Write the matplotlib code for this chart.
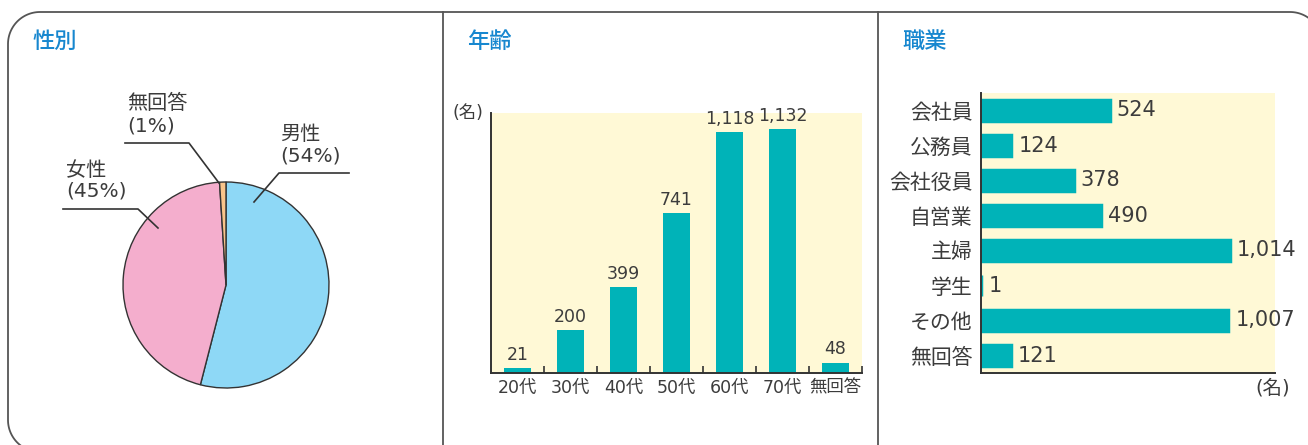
import numpy as np
import matplotlib
matplotlib.use("Agg")
import matplotlib.pyplot as plt

plt.rcParams["font.family"] = ["DejaVu Sans", "Noto Sans CJK JP"]

# ---- data -------------------------------------------------------------------
gender_labels = ["男性", "女性", "無回答"]
gender_pct = [54, 45, 1]

age_labels = ["20代", "30代", "40代", "50代", "60代", "70代", "無回答"]
age_counts = [21, 200, 399, 741, 1118, 1132, 48]

job_labels = ["会社員", "公務員", "会社役員", "自営業", "主婦", "学生", "その他", "無回答"]
job_counts = [524, 124, 378, 490, 1014, 1, 1007, 121]

# ---- style ------------------------------------------------------------------
W, H = 1308, 445
TEAL = "#00b3b8"
CREAM = "#fff9d6"
TXT = "#3c3c3c"
TITLE = "#1787cf"
PIE_COLORS = ["#8ed8f6", "#f4aecd", "#f9c48a"]

fig = plt.figure(figsize=(W / 100, H / 100), dpi=100)
fig.patch.set_facecolor("white")


def px_axes(left, top, right, bottom, **kw):
    """axes placed by pixel edges (top-left origin)"""
    return fig.add_axes([left / W, (H - bottom) / H, (right - left) / W, (bottom - top) / H], **kw)


# ---- 性別: pie --------------------------------------------------------------
cx, cy, r = 226, 285, 103
half = 120
axP = px_axes(cx - half, cy - half, cx + half, cy + half)
axP.pie(gender_pct, colors=PIE_COLORS, startangle=90, counterclock=False,
        wedgeprops=dict(edgecolor="#333333", linewidth=1.0))
lim = half / r
axP.set_xlim(-lim, lim); axP.set_ylim(-lim, lim)
axP.set_aspect("equal")
axP.axis("off")

# ---- 年齢: vertical bars ----------------------------------------------------
axA = px_axes(491, 113, 862, 373, facecolor=CREAM)
xa = range(len(age_labels))
axA.bar(xa, age_counts, width=0.5, color=TEAL, zorder=2)
for x, v in zip(xa, age_counts):
    axA.annotate(f"{v:,}", (x, v), xytext=(0, 3), textcoords="offset points",
                 ha="center", va="bottom", fontsize=12.5, color=TXT)
axA.set_xlim(-0.5, len(age_labels) - 0.5)
axA.set_ylim(0, 1206)
axA.set_xticks(list(xa))
axA.set_xticklabels(age_labels, fontsize=12.5, color=TXT)
axA.tick_params(axis="x", which="major", length=0, pad=4)
axA.set_xticks([i + 0.5 for i in xa], minor=True)
axA.tick_params(axis="x", which="minor", direction="in", length=5, width=1.2, color="#333333")
axA.set_yticks([])
for s in ["top", "right"]:
    axA.spines[s].set_visible(False)
for s in ["left", "bottom"]:
    axA.spines[s].set_color("#333333"); axA.spines[s].set_linewidth(1.4)

# ---- 職業: horizontal bars --------------------------------------------------
axJ = px_axes(981, 93, 1275, 373, facecolor=CREAM)
yj = range(len(job_labels))
axJ.barh(yj, job_counts, height=0.59, color=TEAL, edgecolor=TEAL, linewidth=2.5, zorder=2)
for y, v in zip(yj, job_counts):
    axJ.annotate(f"{v:,}", (v, y), xytext=(5, 0), textcoords="offset points",
                 ha="left", va="center", fontsize=15, color=TXT)
axJ.set_ylim(len(job_labels) - 0.5, -0.5)
axJ.set_xlim(0, 1197)
axJ.set_yticks(list(yj))
axJ.set_yticklabels(job_labels, fontsize=15, color=TXT)
axJ.tick_params(axis="y", length=0, pad=6)
axJ.set_xticks([])
for s in ["top", "right"]:
    axJ.spines[s].set_visible(False)
for s in ["left", "bottom"]:
    axJ.spines[s].set_color("#333333"); axJ.spines[s].set_linewidth(1.4)

# ---- overlay: frame, dividers, titles, pie callouts -------------------------
ov = fig.add_axes([0, 0, 1, 1], zorder=10)
ov.set_xlim(0, W); ov.set_ylim(H, 0)
ov.axis("off")

# rounded frame (right and bottom edges run off the picture)
x0, y0, x1, y1, rad = 8, 12, 1322, 452, 32
t = np.linspace(0, np.pi / 2, 30)
bl_x = x0 + rad - rad * np.sin(t)[::-1]
bl_y = y1 - rad + rad * np.cos(t)[::-1]
tl_x = x0 + rad - rad * np.cos(t)
tl_y = y0 + rad - rad * np.sin(t)
tr_x = x1 - rad + rad * np.sin(t)
tr_y = y0 + rad - rad * np.cos(t)
frame_x = np.concatenate([[x0 + rad + 40], bl_x[::-1], tl_x, tr_x, [x1]])
frame_y = np.concatenate([[y1], bl_y[::-1], tl_y, tr_y, [y1]])
ov.plot(frame_x, frame_y, color="#555555", lw=1.3)

for xd in (443, 878):
    ov.plot([xd, xd], [y0, H + 5], color="#555555", lw=1.3)

for xt, title in [(32, "性別"), (467, "年齢"), (902, "職業")]:
    ov.text(xt, 42, title, fontsize=16, color=TITLE, ha="left", va="center", fontweight="medium")

# leader lines and labels of the pie
callouts = [
    # text x, name y, pct y, line points
    (280, 134, 156, [(349, 173), (279, 173), (254, 202)]),   # 男性
    (66, 170, 191, [(63, 209), (138, 209), (158, 228)]),     # 女性
    (127, 103, 126, [(125, 143), (189, 143), (219, 183)]),   # 無回答
]
for (tx, ny, py, pts), name, pct in zip(callouts, gender_labels, gender_pct):
    ov.text(tx, ny, name, fontsize=14.5, color=TXT, ha="left", va="center")
    ov.text(tx, py, f"({pct}%)", fontsize=14.5, color=TXT, ha="left", va="center")
    ov.plot([p[0] for p in pts], [p[1] for p in pts], color="#333333", lw=1.2)

# unit labels
ov.text(468, 113, "(名)", fontsize=12.5, color=TXT, ha="center", va="center")
ov.text(1273, 388, "(名)", fontsize=14, color=TXT, ha="center", va="center")

fig.savefig("out.png", dpi=100)
